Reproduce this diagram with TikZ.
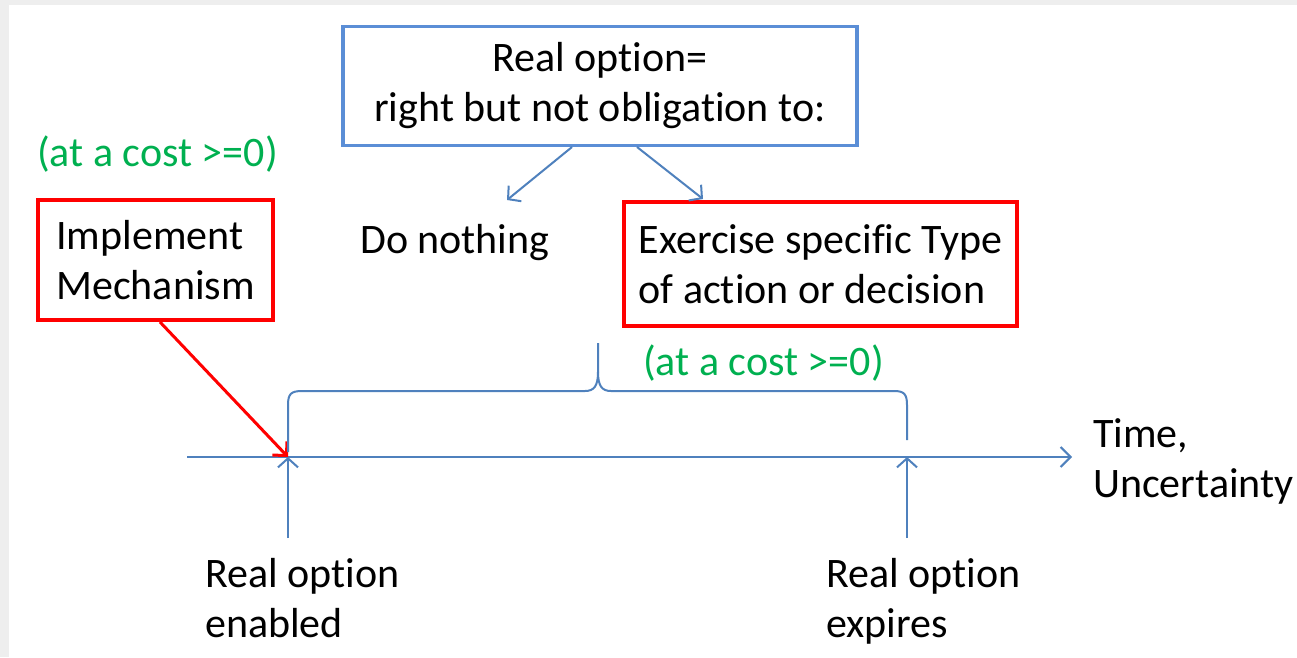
\documentclass[tikz,border=0pt]{standalone}
\usepackage{fontspec}
\setmainfont{Carlito}[Ligatures=NoCommon]
\usetikzlibrary{arrows.meta}
\definecolor{lineblue}{HTML}{4F81BD}
\definecolor{boxblue}{HTML}{5B8ED6}
\definecolor{costgreen}{HTML}{00B050}
\definecolor{edgegray}{HTML}{EEEEEE}
\begin{document}
\begin{tikzpicture}[x=1pt,y=-1pt,
  font=\fontsize{42}{50}\selectfont,
  every node/.style={inner sep=0pt},
  bluebox/.style={draw=boxblue, line width=3.5pt, align=center,
    minimum width=514pt, minimum height=119pt},
  redbox/.style={draw=red, line width=3.5pt, align=left},
  plain/.style={anchor=base west, align=left},
  cost/.style={text=costgreen, anchor=base west},
  barrow/.style={draw=lineblue, line width=2pt,
    -{Straight Barb[length=9pt,width=20pt,line width=2pt]}},
  redarrow/.style={draw=red, line width=3pt,
    -{Straight Barb[length=10pt,width=20pt,line width=3pt]}},
  axis/.style={draw=lineblue, line width=2.5pt,
    -{Straight Barb[length=10pt,width=20pt,line width=2pt]}},
  bracket/.style={draw=lineblue, line width=2pt}
]
% page frame
\fill[edgegray] (0,0) rectangle (1297,657);
\fill[white] (9,5) rectangle (1297,657);
\useasboundingbox (0,0) rectangle (1297,657);

% boxes and labels (multi-line labels sit on the baseline of their last line)
\node[bluebox] (def) at (600,86) {Real option=\\right but not obligation to:};
\node[cost] (costL) at (37,166) {(at a cost >=0)};
\node[redbox, minimum width=235pt, minimum height=120pt] (impl) at (155.5,260) {Implement\\Mechanism};
\node[plain] (none) at (360,253) {Do nothing};
\node[redbox, minimum width=393pt, minimum height=124pt] (exer) at (820.5,264) {Exercise specific Type\\of action or decision};
\node[cost] (costR) at (643,375) {(at a cost >=0)};
\node[plain] (axlab) at (1093,497) {Time,\\Uncertainty};
\node[plain] (enab) at (205,637) {Real option\\enabled};
\node[plain] (expi) at (826,637) {Real option\\expires};

% anchor points on the time line
\coordinate (axStart) at (187,457);
\coordinate (axEnd) at (1072,457);
\coordinate (tEnable) at (288,457);
\coordinate (tExpire) at (907,457);
\coordinate (enableFoot) at (288,538);
\coordinate (expireFoot) at (907,538);
\coordinate (defL) at (572,147);
\coordinate (defR) at (637,147);
\coordinate (noneTip) at (507,200);
\coordinate (exerTip) at (703,199);
\coordinate (implFoot) at (160,322);

% connectors
\draw[axis] (axStart) -- (axEnd);
\draw[barrow] (enableFoot) -- (tEnable);
\draw[barrow] (expireFoot) -- (tExpire);
\draw[barrow] (defL) -- (noneTip);
\draw[barrow] (defR) -- (exerTip);
\draw[redarrow] (implFoot) -- (tEnable);

% curly bracket over the option life
\draw[bracket] (288,452) -- (288,405) .. controls (288,394) and (291,391) .. (302,391)
  -- (585,391) .. controls (594,391) and (598,386) .. (598,372) -- (598,343);
\draw[bracket] (598,372) .. controls (598,386) and (602,391) .. (611,391)
  -- (894,391) .. controls (904,391) and (907,394) .. (907,405) -- (907,440);
\end{tikzpicture}
\end{document}
